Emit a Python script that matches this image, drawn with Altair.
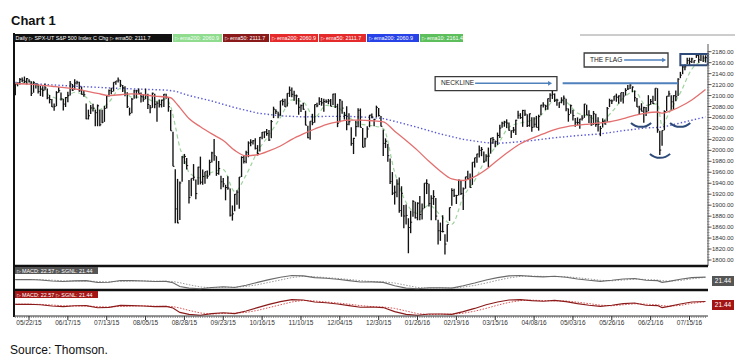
import altair as alt
import pandas as pd

# ---------------- data (S&P 500 daily bars) ----------------
FIRST_BAR = -6   # trading-day index of the first bar (0 = 05/22/15)

high = [
    2121.5, 2123.9, 2131.8, 2133.0, 2134.7, 2131.8, 2129.9, 2126.2, 2126.2, 2122.3, 2120.7,
    2117.6, 2117.1, 2121.9, 2112.9, 2100.9, 2093.8, 2085.7, 2108.0, 2115.0, 2105.6, 2094.1, 2097.4, 2106.8, 2126.6, 2121.1, 2129.9, 2126.8, 2125.1, 2116.5, 2108.9, 2085.7, 2074.3,
    2082.8, 2085.1, 2074.0, 2083.7, 2074.0, 2074.3, 2081.3, 2100.7, 2111.0, 2114.2, 2124.4, 2126.6, 2132.8, 2128.5, 2119.2, 2116.9, 2106.0, 2078.0, 2095.6, 2110.6, 2110.5, 2112.7,
    2105.7, 2102.5, 2112.7, 2103.3, 2082.9, 2105.4, 2103.3, 2089.1, 2092.9, 2092.5, 2102.7, 2103.5, 2096.2, 2073.6, 2034.1, 1965.6, 1948.0, 1943.1, 1989.6, 1993.5, 1986.0,
    1946.0, 1948.9, 1975.0, 1946.7, 1970.1, 1988.6, 1965.3, 1961.1, 1963.1, 1983.0, 1997.3, 2020.9, 1989.4, 1980.8, 1953.9, 1949.5, 1937.2, 1952.9, 1930.3, 1899.5, 1920.5,
    1927.2, 1951.4, 1989.2, 1989.5, 1999.4, 2016.5, 2020.1, 2018.7, 2022.3, 2009.6, 2024.2, 2033.5, 2034.5, 2039.1, 2037.0, 2055.2, 2079.7, 2075.1, 2070.4, 2090.4, 2094.0, 2094.3,
    2104.1, 2116.5, 2114.6, 2108.8, 2101.9, 2095.6, 2083.7, 2086.9, 2072.3, 2045.0, 2053.2, 2066.7, 2083.6, 2086.7, 2097.1, 2095.6, 2094.1, 2093.0, 2093.8, 2093.8,
    2103.4, 2104.3, 2085.0, 2093.8, 2090.4, 2070.2, 2080.3, 2067.7, 2042.2, 2022.9, 2053.9, 2076.7, 2076.4, 2040.8, 2022.9, 2044.0, 2064.7, 2067.4, 2057.8, 2081.6, 2077.3, 2062.5,
    2038.2, 2021.9, 2011.7, 1985.3, 1960.4, 1935.7, 1947.4, 1950.3, 1934.5, 1900.3, 1901.4, 1876.2, 1889.9, 1908.9, 1906.3, 1905.3, 1916.9, 1902.9, 1940.2,
    1947.2, 1939.0, 1918.0, 1927.4, 1913.1, 1873.3, 1868.3, 1881.6, 1847.0, 1864.8, 1895.8, 1930.7, 1930.0, 1918.8, 1946.7, 1945.5, 1932.1, 1951.8, 1962.9, 1958.0,
    1978.4, 1986.5, 1993.7, 2009.1, 2006.1, 1998.0, 1992.7, 2005.1, 2022.4, 2024.3, 2017.8, 2032.5, 2046.7, 2052.4, 2053.9, 2056.6, 2051.0, 2036.0, 2042.7, 2055.9, 2072.2, 2067.9,
    2074.0, 2074.0, 2066.1, 2067.3, 2060.6, 2060.6, 2062.9, 2065.1, 2083.2, 2087.8, 2083.2, 2094.7, 2104.4, 2111.1, 2103.9, 2094.3, 2087.8, 2096.9, 2099.9, 2094.0, 2076.5,
    2083.6, 2074.0, 2059.0, 2060.2, 2057.7, 2064.2, 2084.9, 2083.3, 2073.0, 2064.5, 2071.9, 2067.0, 2060.6, 2044.6, 2058.4, 2055.9, 2079.0, 2094.3, 2092.7, 2099.1, 2103.5,
    2100.2, 2105.3, 2106.7, 2113.4, 2119.2, 2120.6, 2116.8, 2109.3, 2095.6, 2081.3, 2086.0, 2079.6, 2079.3, 2100.7, 2093.7, 2099.7, 2113.3, 2113.3, 2035.7, 2036.1, 2073.0, 2098.9,
    2108.7, 2100.7, 2100.7, 2109.1, 2131.7, 2143.2, 2155.4, 2156.5, 2169.1, 2169.1, 2168.9, 2163.8, 2175.6, 2174.6, 2175.1, 2173.6, 2173.5,
]
low = [
    2100.4, 2116.8, 2120.0, 2124.5, 2122.6, 2120.0, 2123.8, 2099.2, 2105.1, 2112.9, 2103.9,
    2099.1, 2098.0, 2109.6, 2093.2, 2085.7, 2079.1, 2072.1, 2080.5, 2105.0, 2091.1, 2072.7, 2079.1, 2087.7, 2100.0, 2108.5, 2110.7, 2120.1, 2107.0, 2101.8, 2098.0, 2056.6, 2056.3,
    2066.5, 2071.0, 2044.0, 2044.0, 2044.0, 2049.3, 2052.0, 2076.6, 2098.2, 2102.5, 2107.4, 2119.9, 2123.7, 2115.4, 2106.3, 2098.6, 2077.1, 2063.5, 2067.6, 2094.1, 2094.6, 2103.1,
    2087.3, 2088.6, 2093.3, 2075.5, 2067.9, 2077.6, 2076.9, 2052.1, 2078.3, 2078.3, 2079.3, 2094.1, 2070.5, 2035.7, 1970.9, 1867.0, 1867.1, 1872.8, 1942.7, 1975.2, 1965.0,
    1903.0, 1916.5, 1944.7, 1911.0, 1937.2, 1937.9, 1937.2, 1939.2, 1948.3, 1954.3, 1977.9, 1980.9, 1953.5, 1955.6, 1929.2, 1932.6, 1908.9, 1928.1, 1879.2, 1871.9, 1888.9,
    1900.7, 1893.7, 1951.4, 1976.0, 1976.4, 1987.5, 2007.6, 2010.6, 2001.8, 1990.7, 1998.1, 2020.5, 2022.3, 2026.6, 2017.2, 2022.0, 2058.8, 2066.5, 2058.8, 2063.1, 2081.7, 2079.3,
    2080.0, 2097.5, 2096.9, 2090.4, 2083.7, 2064.8, 2069.9, 2074.2, 2045.7, 2022.0, 2019.4, 2045.9, 2050.4, 2078.8, 2082.8, 2081.4, 2070.3, 2086.3, 2084.1, 2080.4,
    2082.9, 2077.1, 2042.4, 2051.2, 2066.8, 2056.2, 2036.5, 2045.7, 2008.3, 1993.3, 2025.4, 2042.4, 2041.7, 2005.3, 2005.9, 2022.8, 2042.2, 2058.7, 2044.2, 2060.5, 2061.9, 2043.6,
    1989.7, 2004.2, 1979.1, 1938.8, 1918.5, 1901.1, 1914.4, 1886.3, 1878.9, 1857.8, 1864.6, 1812.3, 1848.9, 1878.9, 1875.9, 1872.5, 1872.7, 1873.7, 1894.3,
    1920.3, 1897.8, 1872.7, 1900.5, 1872.7, 1828.5, 1834.9, 1850.3, 1810.1, 1833.2, 1871.4, 1898.8, 1915.1, 1902.2, 1917.8, 1918.7, 1891.0, 1930.1, 1945.8, 1931.8,
    1937.1, 1968.8, 1977.4, 1986.8, 1989.4, 1977.4, 1979.8, 1969.3, 1994.0, 2012.0, 2005.9, 2010.0, 2022.6, 2041.4, 2043.1, 2040.6, 2035.7, 2022.5, 2031.9, 2028.1, 2057.7, 2057.5,
    2043.0, 2062.6, 2042.6, 2043.1, 2033.8, 2041.7, 2041.9, 2036.0, 2064.1, 2078.1, 2073.4, 2073.9, 2088.1, 2093.8, 2088.2, 2081.2, 2077.5, 2085.8, 2082.3, 2071.5, 2052.3,
    2066.8, 2054.6, 2043.0, 2045.8, 2039.5, 2054.6, 2059.3, 2064.5, 2050.1, 2045.0, 2046.6, 2043.1, 2034.5, 2025.9, 2041.7, 2047.3, 2052.1, 2078.9, 2084.7, 2090.6, 2088.7,
    2085.1, 2088.6, 2085.4, 2100.0, 2110.2, 2111.8, 2106.0, 2089.0, 2078.9, 2064.7, 2070.9, 2050.4, 2062.8, 2071.3, 2083.1, 2084.4, 2089.9, 2032.1, 1991.7, 2008.2, 2036.7, 2071.8,
    2097.9, 2074.0, 2074.0, 2089.4, 2099.3, 2131.7, 2139.0, 2146.2, 2157.4, 2155.8, 2159.2, 2159.1, 2168.7, 2159.8, 2163.2, 2161.2, 2160.2,
]
close = [
    2121.1, 2122.7, 2129.2, 2127.8, 2125.9, 2130.8, 2126.1, 2104.2, 2123.5, 2120.8, 2107.4,
    2111.7, 2109.6, 2114.1, 2095.8, 2092.8, 2079.3, 2080.2, 2105.2, 2108.9, 2094.1, 2084.4, 2096.3, 2100.4, 2121.2, 2110.0, 2122.9, 2124.2, 2108.6, 2102.3, 2101.5, 2057.6, 2063.1,
    2077.4, 2076.8, 2068.8, 2081.3, 2046.7, 2051.3, 2076.6, 2099.6, 2109.0, 2107.4, 2124.3, 2126.6, 2128.3, 2119.2, 2114.2, 2102.2, 2079.7, 2067.6, 2093.3, 2108.6, 2108.6, 2103.8,
    2098.0, 2093.3, 2099.8, 2083.6, 2077.6, 2104.2, 2084.1, 2086.1, 2083.4, 2091.5, 2102.4, 2096.9, 2079.6, 2035.7, 1970.9, 1893.2, 1867.6, 1940.5, 1987.7, 1988.9, 1972.2,
    1913.9, 1948.9, 1951.1, 1921.2, 1969.4, 1942.0, 1952.3, 1961.1, 1953.0, 1978.1, 1995.3, 1990.2, 1958.0, 1967.0, 1942.7, 1938.8, 1932.2, 1931.3, 1881.8, 1884.1, 1920.0,
    1923.8, 1951.4, 1987.1, 1979.9, 1995.8, 2013.4, 2014.9, 2017.5, 2003.7, 1994.2, 2023.9, 2033.1, 2033.7, 2030.8, 2018.9, 2052.5, 2075.2, 2071.2, 2065.9, 2090.4, 2089.4, 2079.4,
    2104.1, 2109.8, 2102.3, 2099.9, 2099.2, 2078.6, 2081.7, 2075.0, 2046.0, 2023.0, 2053.2, 2050.4, 2083.6, 2081.2, 2089.2, 2086.6, 2089.1, 2088.9, 2090.1, 2080.4,
    2102.6, 2079.5, 2049.6, 2091.7, 2077.1, 2063.6, 2047.6, 2052.2, 2012.4, 2021.9, 2043.4, 2073.1, 2041.9, 2005.6, 2021.2, 2039.0, 2064.3, 2061.0, 2056.5, 2078.4, 2063.4, 2043.9,
    2012.7, 2016.7, 1990.3, 1943.1, 1922.0, 1923.7, 1938.7, 1890.3, 1921.8, 1880.3, 1881.3, 1859.3, 1869.0, 1906.9, 1877.1, 1903.6, 1883.0, 1893.4, 1940.2,
    1939.4, 1903.0, 1912.5, 1915.5, 1880.1, 1853.4, 1852.2, 1851.9, 1829.1, 1864.8, 1895.6, 1926.8, 1917.8, 1917.8, 1945.5, 1921.3, 1929.8, 1951.7, 1948.1, 1932.2,
    1978.4, 1986.5, 1993.4, 2000.0, 2001.8, 1979.3, 1989.3, 1989.6, 2022.2, 2019.6, 2015.9, 2027.2, 2040.6, 2049.6, 2051.6, 2049.8, 2036.7, 2035.9, 2037.1, 2055.0, 2064.0, 2059.7,
    2072.8, 2066.1, 2045.2, 2066.7, 2041.9, 2047.6, 2042.0, 2061.7, 2082.4, 2082.8, 2080.7, 2094.3, 2100.8, 2102.4, 2091.5, 2091.6, 2087.8, 2091.7, 2095.2, 2075.8, 2065.3,
    2081.4, 2063.4, 2051.1, 2050.6, 2057.1, 2058.7, 2084.4, 2064.5, 2064.1, 2046.6, 2066.7, 2047.2, 2047.6, 2040.0, 2052.3, 2048.0, 2076.1, 2090.5, 2090.1, 2099.1, 2097.0,
    2099.3, 2105.3, 2099.1, 2109.4, 2112.1, 2119.1, 2115.5, 2096.1, 2079.1, 2075.3, 2071.5, 2078.0, 2071.2, 2083.3, 2088.9, 2085.5, 2113.3, 2037.4, 2000.5, 2036.1, 2070.8, 2098.9,
    2103.0, 2088.6, 2099.7, 2097.9, 2129.9, 2137.2, 2152.1, 2152.4, 2163.8, 2161.7, 2166.9, 2163.8, 2173.0, 2165.2, 2175.0, 2168.5, 2169.2,
]

# moving averages
ema200_i = [-6, 0, 20, 40, 60, 64, 70, 80, 90, 100, 110, 120, 130, 140, 150, 155, 160, 170, 180, 190, 200, 205, 210, 220, 230, 240, 250, 260, 270, 276, 280, 290, 296]
ema200_v = [2124, 2122, 2117, 2113, 2110, 2108, 2100, 2090, 2078, 2068, 2063, 2061, 2062, 2062, 2060, 2058, 2053, 2042, 2030, 2020, 2014, 2013, 2014, 2018, 2023, 2027, 2030, 2036, 2041, 2042, 2045, 2055, 2061]

ema50_i = [-6, 0, 10, 20, 30, 35, 45, 55, 62, 64, 66, 70, 75, 80, 85, 90, 95, 100, 105, 110, 115, 120, 125, 130, 135, 140, 145, 150, 155, 160, 165, 170, 175, 180, 185, 190, 195, 200, 205, 210, 215, 220, 225, 230, 235, 240, 245, 250, 255, 260, 265, 270, 275, 277, 280, 285, 290, 296]
ema50_v = [2122, 2121, 2117, 2112, 2104, 2100, 2103, 2099, 2096, 2088, 2078, 2058, 2043, 2030, 2018, 2000, 1990, 1992, 1999, 2008, 2020, 2030, 2039, 2047, 2052, 2055, 2055, 2054, 2052, 2035, 2018, 2000, 1980, 1962, 1948, 1945, 1952, 1965, 1982, 1998, 2012, 2022, 2030, 2038, 2043, 2046, 2048, 2050, 2053, 2058, 2064, 2068, 2070, 2068, 2071, 2080, 2092, 2111]

ema10_i = [-6, 0, 5, 10, 15, 20, 25, 30, 35, 40, 45, 50, 55, 60, 62, 64, 66, 68, 70, 75, 80, 85, 90, 95, 100, 105, 110, 115, 120, 125, 130, 135, 140, 145, 150, 155, 160, 165, 170, 175, 180, 185, 190, 195, 200, 205, 210, 215, 220, 225, 230, 235, 240, 245, 250, 255, 260, 265, 270, 275, 277, 280, 285, 290, 296]
ema10_v = [2121, 2124, 2114, 2098, 2093, 2106, 2097, 2073, 2088, 2113, 2097, 2097, 2089, 2093, 2080, 2045, 2005, 1985, 1960, 1950, 1960, 1965, 1925, 1955, 1998, 2028, 2060, 2092, 2088, 2060, 2082, 2078, 2060, 2048, 2045, 2040, 1960, 1905, 1885, 1900, 1882, 1865, 1915, 1945, 1985, 2010, 2042, 2050, 2055, 2068, 2092, 2088, 2068, 2062, 2052, 2070, 2095, 2108, 2082, 2085, 2045, 2068, 2105, 2148, 2165]

# MACD / signal
macd_i = [-6, 0, 5, 10, 15, 20, 25, 30, 35, 40, 45, 50, 55, 60, 63, 66, 70, 75, 80, 85, 90, 95, 100, 105, 110, 115, 120, 125, 130, 135, 140, 145, 150, 155, 160, 165, 170, 175, 180, 185, 190, 195, 200, 205, 210, 215, 220, 225, 230, 235, 240, 245, 250, 255, 260, 265, 270, 275, 277, 280, 285, 290, 296]
macd_v = [8, 9, 6, 0, -3, 1, 2, -9, -7, 3, 2, 0, -3, -2, -10, -32, -42, -46, -38, -34, -38, -25, -8, 8, 22, 32, 30, 20, 16, 10, 2, -6, -5, -8, -28, -42, -46, -40, -40, -42, -28, -12, 6, 20, 30, 32, 27, 24, 28, 22, 12, 4, -2, 4, 12, 15, 4, 2, -8, -2, 10, 20, 22.57]
sgnl_v = [9, 9, 8, 5, 1, 0, 0, -3, -5, -2, 0, 1, -1, -2, -3, -10, -22, -35, -40, -37, -36, -32, -22, -8, 6, 20, 28, 25, 20, 15, 9, 2, -3, -5, -12, -25, -38, -43, -41, -41, -36, -26, -12, 4, 18, 27, 29, 27, 26, 25, 19, 12, 4, 1, 6, 11, 9, 6, 2, -1, 3, 13, 21.44]

# axis text
date_tick_idx = [0, 17, 34, 51, 68, 85, 102, 119, 136, 153, 170, 187, 204, 221, 238, 255, 272, 289]
date_labels = ["05/22/15", "06/17/15", "07/13/15", "08/05/15", "08/28/15", "09/23/15", "10/16/15", "11/10/15", "12/04/15",
               "12/30/15", "01/26/16", "02/19/16", "03/15/16", "04/08/16", "05/03/16", "05/26/16", "06/21/16", "07/15/16"]
price_ticks = [1800, 1820, 1840, 1860, 1880, 1900, 1920, 1940, 1960, 1980, 2000, 2020, 2040, 2060, 2080, 2100, 2120, 2140, 2160, 2180]
price_minor = [1800 + 5 * k for k in range(77)]

header_texts = ["Daily  \u25b7 SPX-UT  S&P 500 Index  C  Chg \u25b7 ema50: 2111.7", "\u25b7 ema200: 2060.9", "\u25b7 ema50: 2111.7",
                "\u25b7 ema200: 2060.9", "\u25b7 ema50: 2111.7", "\u25b7 ema200: 2060.9", "\u25b7 ema10: 2161.4"]
macd_label = "\u25b7 MACD: 22.57 \u25b7 SGNL: 21.44"
macd_last = "21.44"

# annotations (in trading-day index / price units)
neck_box = {"i0": 177.7, "i1": 231.0, "p0": 2109.0, "p1": 2134.5}
flag_box = {"i0": 242.9, "i1": 279.6, "p0": 2152.1, "p1": 2177.6}
flag_rect = {"i0": 285.0, "i1": 297.0, "p0": 2155.2, "p1": 2175.8}
notes = pd.DataFrame({"i": [180.3, 245.5], "p": [2122.0, 2164.9], "t": ["NECKLINE", "THE FLAG"]})
arrows = pd.DataFrame({"i0": [195.2, 260.4], "i1": [228.0, 277.9], "p": [2122.3, 2164.9]})
neckline = pd.DataFrame({"i0": [233.5], "i1": [284.0], "p": [2122.5]})
cups = pd.DataFrame({"i": [267.8, 276.1, 284.9], "p": [2042.9, 1986.4, 2042.9]})

# ---------------- layout / styles ----------------
FONT = "Liberation Sans"
X = alt.Scale(domain=[0, 289], range=[21, 681.5], nice=False, zero=False)
YP = alt.Scale(domain=[1800, 2180], range=[252, 43.7], nice=False, zero=False)
YM1 = alt.Scale(domain=[-50, 40], range=[281.5, 266.2], nice=False, zero=False)
YM2 = alt.Scale(domain=[-50, 40], range=[308, 290], nice=False, zero=False)

bars = pd.DataFrame({"i": list(range(FIRST_BAR, FIRST_BAR + len(close))), "high": high, "low": low, "close": close})
e200 = pd.DataFrame({"i": ema200_i, "v": ema200_v})
e50 = pd.DataFrame({"i": ema50_i, "v": ema50_v})
e10 = pd.DataFrame({"i": ema10_i, "v": ema10_v})
macd = pd.DataFrame({"i": macd_i, "m": macd_v, "s": sgnl_v})
one = pd.DataFrame({"k": [0]})


def xq(f="i"):
    return alt.X(f"{f}:Q", scale=X, axis=None)


def yq(f, sc=YP):
    return alt.Y(f"{f}:Q", scale=sc, axis=None)


def px(f):
    return alt.X(f"{f}:Q", scale=None, axis=None)


layers = []

# header strip
hdr = pd.DataFrame({
    "x0": [6, 165, 215, 262, 311, 359, 412],
    "x1": [164, 214, 261, 310, 358, 411, 455],
    "fill": ["#111111", "#8fdc8f", "#8a1a1a", "#e42a2a", "#e42a2a", "#2742e6", "#5cbf5c"],
    "tc": ["#ffffff", "#f4fff4", "#ffffff", "#ffffff", "#ffffff", "#ffffff", "#ffffff"],
    "label": header_texts,
})
hdr["tx"] = hdr["x0"] + 1.5
layers.append(alt.Chart(hdr).mark_rect().encode(x=px("x0"), x2="x1:Q", y=alt.value(26), y2=alt.value(34),
                                                color=alt.Color("fill:N", scale=None)))
layers.append(alt.Chart(hdr).mark_text(align="left", baseline="middle", fontSize=5.4, font=FONT).encode(
    x=px("tx"), y=alt.value(30.2), text="label:N", color=alt.Color("tc:N", scale=None)))
layers.append(alt.Chart(one).mark_rule(color="#9a9a9a", strokeWidth=1).encode(
    x=alt.value(572), x2=alt.value(727), y=alt.value(27)))

# title and source
layers.append(alt.Chart(pd.DataFrame({"t": ["Chart 1"]})).mark_text(
    align="left", baseline="alphabetic", fontSize=13, fontWeight="bold", font=FONT, color="#111").encode(
    x=alt.value(3), y=alt.value(17), text="t:N"))
layers.append(alt.Chart(pd.DataFrame({"t": ["Source: Thomson."]})).mark_text(
    align="left", baseline="alphabetic", fontSize=12, font=FONT, color="#111").encode(
    x=alt.value(2), y=alt.value(345.5), text="t:N"))

# moving averages
layers.append(alt.Chart(e200).mark_line(color="#5757d6", strokeWidth=1.4, strokeDash=[1.4, 2.2]).encode(
    x=xq(), y=yq("v")))
layers.append(alt.Chart(e10).mark_line(color="#9fd39f", strokeWidth=1.2, strokeDash=[4, 3], interpolate="monotone").encode(
    x=xq(), y=yq("v")))

# price bars
layers.append(alt.Chart(bars).mark_rule(color="#111111", strokeWidth=1.35).encode(
    x=xq(), y=yq("low"), y2="high:Q"))
layers.append(alt.Chart(bars).transform_calculate(ir="datum.i + 0.65").mark_rule(
    color="#111111", strokeWidth=1).encode(x=xq(), x2="ir:Q", y=yq("close")))

layers.append(alt.Chart(e50).mark_line(color="#e36f6f", strokeWidth=1.3, interpolate="monotone").encode(
    x=xq(), y=yq("v")))

# annotations
for box in (neck_box, flag_box):
    layers.append(alt.Chart(pd.DataFrame([box])).mark_rect(fill="white", stroke="#3a3a3a", strokeWidth=1.3).encode(
        x=xq("i0"), x2="i1:Q", y=yq("p0"), y2="p1:Q"))
layers.append(alt.Chart(notes).mark_text(align="left", baseline="middle", fontSize=6.6, font=FONT, color="#222").encode(
    x=xq(), y=yq("p"), text="t:N"))
layers.append(alt.Chart(arrows).mark_rule(color="#4f81bd", strokeWidth=1.5).encode(
    x=xq("i0"), x2="i1:Q", y=yq("p")))
layers.append(alt.Chart(arrows).mark_point(shape="triangle-right", filled=True, size=22, color="#4f81bd", opacity=1).encode(
    x=xq("i1"), y=yq("p")))
layers.append(alt.Chart(neckline).mark_rule(color="#4f81bd", strokeWidth=2).encode(
    x=xq("i0"), x2="i1:Q", y=yq("p")))
layers.append(alt.Chart(pd.DataFrame([flag_rect])).mark_rect(fillOpacity=0, stroke="#2d4a78", strokeWidth=2).encode(
    x=xq("i0"), x2="i1:Q", y=yq("p0"), y2="p1:Q"))
layers.append(alt.Chart(cups).mark_arc(radius=16, radius2=14, theta=2.4, theta2=3.88, color="#2d4a78", yOffset=-15).encode(
    x=xq(), y=yq("p")))

# right price axis
ticks = pd.DataFrame({"v": price_ticks, "lab": [f"{v}.00" for v in price_ticks]})
minor = pd.DataFrame({"v": price_minor})
layers.append(alt.Chart(one).mark_rule(color="#555", strokeWidth=1).encode(
    x=alt.value(700), y=alt.value(36), y2=alt.value(258)))
layers.append(alt.Chart(minor).mark_rule(color="#777", strokeWidth=0.8).encode(
    x=alt.value(699), x2=alt.value(701.5), y=yq("v")))
layers.append(alt.Chart(ticks).mark_rule(color="#555", strokeWidth=1).encode(
    x=alt.value(700), x2=alt.value(703.5), y=yq("v")))
layers.append(alt.Chart(ticks).mark_text(align="left", baseline="middle", fontSize=6, font=FONT, color="#333").encode(
    x=alt.value(704), y=yq("v"), text="lab:N"))

# frame lines
layers.append(alt.Chart(one).mark_rule(color="#111", strokeWidth=2).encode(
    x=alt.value(6), y=alt.value(25), y2=alt.value(309)))
for yy in (258, 282):
    layers.append(alt.Chart(one).mark_rule(color="#111", strokeWidth=2.5).encode(
        x=alt.value(6), x2=alt.value(700), y=alt.value(yy)))

# MACD panels
for sc, lab_y, bg, mcol, scol in ((YM1, 259, "#555555", "#6a6a6a", "#9a9a9a"),
                                  (YM2, 283, "#a31515", "#8b1a1a", "#e05050")):
    layers.append(alt.Chart(macd).mark_line(color=scol, strokeWidth=1, strokeDash=[1.5, 1.5]).encode(
        x=xq(), y=yq("s", sc)))
    layers.append(alt.Chart(macd).mark_line(color=mcol, strokeWidth=1.1).encode(
        x=xq(), y=yq("m", sc)))
    layers.append(alt.Chart(one).mark_rect(color=bg).encode(
        x=alt.value(7), x2=alt.value(90), y=alt.value(lab_y), y2=alt.value(lab_y + 7)))
    layers.append(alt.Chart(pd.DataFrame({"t": [macd_label]})).mark_text(
        align="left", baseline="middle", fontSize=5.4, font=FONT, color="white").encode(
        x=alt.value(8.5), y=alt.value(lab_y + 3.7), text="t:N"))
    layers.append(alt.Chart(one).mark_rect(color=bg).encode(
        x=alt.value(704), x2=alt.value(726), y=alt.value(lab_y + 9), y2=alt.value(lab_y + 19)))
    layers.append(alt.Chart(pd.DataFrame({"t": [macd_last]})).mark_text(
        align="center", baseline="middle", fontSize=6.5, font=FONT, color="white").encode(
        x=alt.value(715), y=alt.value(lab_y + 14.2), text="t:N"))

# date axis
dates = pd.DataFrame({"i": date_tick_idx, "lab": date_labels})
layers.append(alt.Chart(one).mark_rule(color="#333", strokeWidth=1).encode(
    x=alt.value(6), x2=alt.value(700), y=alt.value(308)))
layers.append(alt.Chart(bars).mark_rule(color="#666", strokeWidth=0.7).encode(
    x=xq(), y=alt.value(308), y2=alt.value(310)))
layers.append(alt.Chart(dates).mark_rule(color="#333", strokeWidth=1).encode(
    x=xq(), y=alt.value(308), y2=alt.value(312)))
layers.append(alt.Chart(dates).mark_text(align="center", baseline="middle", fontSize=6.5, font=FONT, color="#333").encode(
    x=xq(), y=alt.value(314.8), text="lab:N"))

chart = alt.layer(*layers).resolve_scale(x="independent", y="independent", color="independent").properties(
    width=734, height=347, padding=0, autosize="none", background="white"
).configure_view(stroke=None)

chart.save("out.html", embed_options={"renderer": "svg", "actions": False})
